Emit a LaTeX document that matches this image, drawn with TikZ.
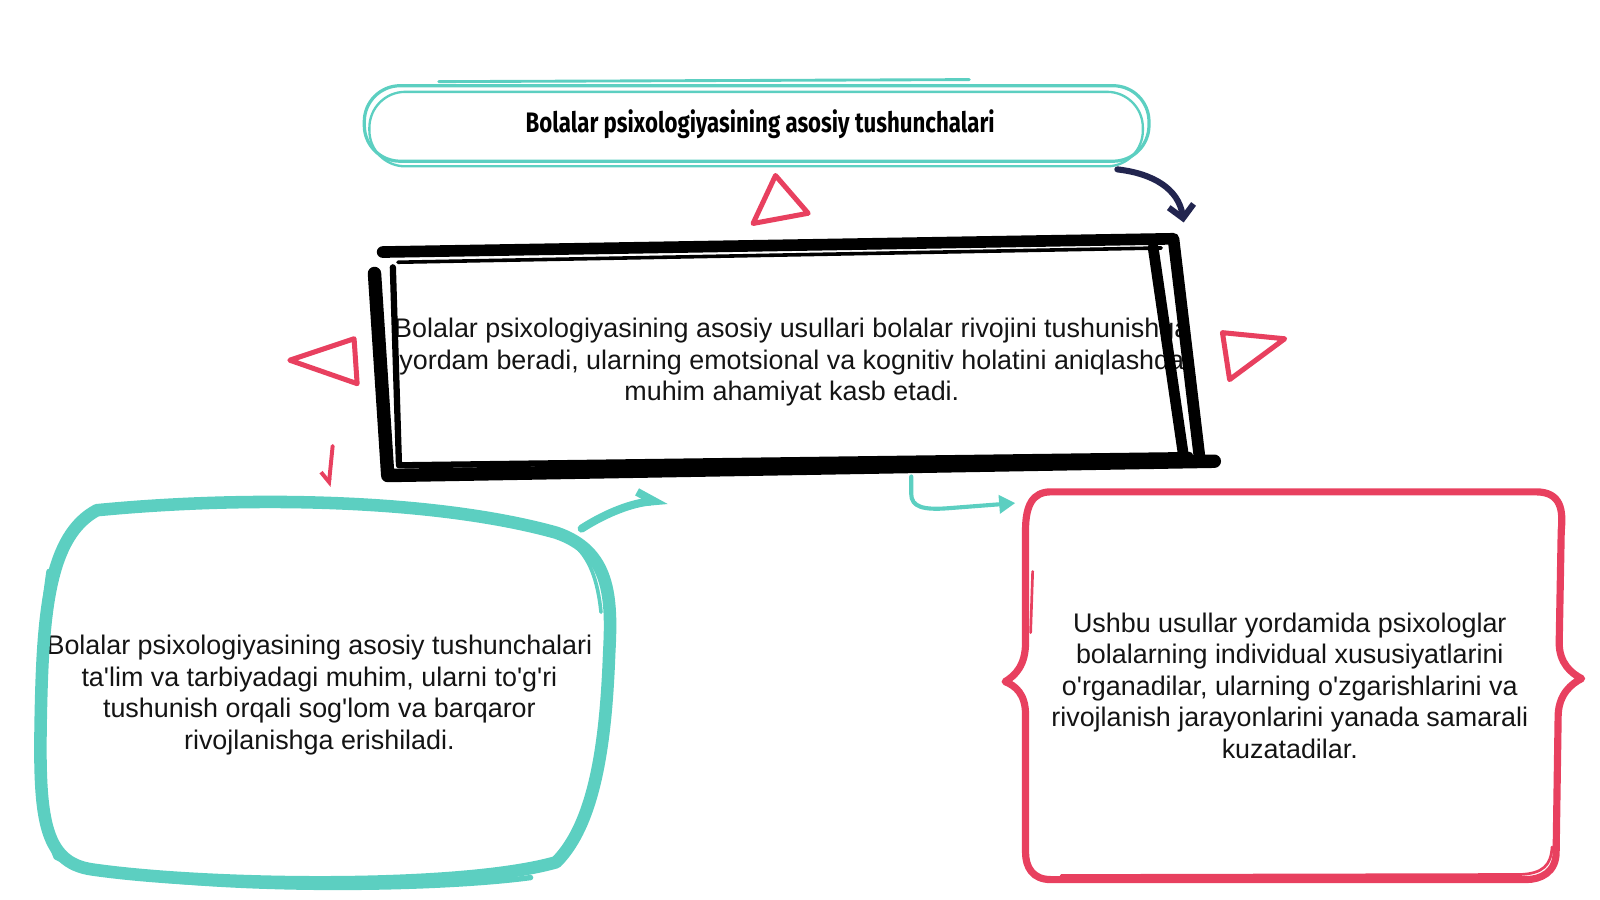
\documentclass[tikz,border=0pt]{standalone}
\usepackage{fontspec}
\usepackage{tikz}
\usetikzlibrary{arrows.meta}
\newfontfamily\bodyfont{Liberation Sans}
\newfontfamily\titlefont{Fira Sans}[FakeStretch=0.79]
\definecolor{tealink}{HTML}{5CCFC1}
\definecolor{redink}{HTML}{E8405F}
\definecolor{navyink}{HTML}{22254F}

\tikzset{
	tealpen/.style={draw=tealink, line cap=round, line join=round},
	redpen/.style={draw=redink, line cap=round, line join=round},
	inkpen/.style={draw=black, line cap=round, line join=round},
	bodytext/.style={align=center, text=black!92, font=\bodyfont\fontsize{15}{17.6}\selectfont},
}

\begin{document}
\begin{tikzpicture}[x=0.02cm, y=-0.02cm]
			\useasboundingbox (0,0) rectangle (1568,882);
			
			% Title pill
			\node (title) at (745,122) {\titlefont\bfseries\fontsize{15.7}{18}\selectfont Bolalar psixologiyasining asosiy tushunchalari};
			\draw[tealpen, line width=1.8pt, rounded corners=20pt] (357,84) rectangle (1126,158);
			\draw[tealpen, line width=1.3pt, rounded corners=20pt] (362,90) rectangle (1120,163);
			\draw[tealpen, line width=1.6pt] (430,80) -- (950,78);
			
			% Middle text, then the ink frame over it
			\node[bodytext] (methods) at (776,355) {Bolalar psixologiyasining asosiy usullari bolalar rivojini tushunishga\\ yordam beradi, ularning emotsional va kognitiv holatini aniqlashda\\ muhim ahamiyat kasb etadi.};
			\draw[inkpen, line width=6.5pt] (375,247) -- (1150,234) -- (1176,452);
			\draw[inkpen, line width=2pt] (390,257) -- (1138,243);
			\draw[inkpen, line width=7.5pt] (367,268) -- (380,466) -- (1190,452);
			\draw[inkpen, line width=3.5pt] (385,262) -- (391,456) -- (1166,446);
			\draw[inkpen, line width=6pt] (1130,242) -- (1160,448);
			
			% Left teal frame
			\node[bodytext] (concepts) at (313,681) {Bolalar psixologiyasining asosiy tushunchalari\\ ta'lim va tarbiyadagi muhim, ularni to'g'ri\\ tushunish orqali sog'lom va barqaror\\ rivojlanishga erishiladi.};
			\draw[tealpen, line width=7pt] (95,500) .. controls (250,485) and (430,490) .. (545,522) .. controls (598,540) and (600,585) .. (597,640) .. controls (594,720) and (585,805) .. (545,845) .. controls (450,872) and (200,868) .. (90,852) .. controls (42,845) and (38,800) .. (40,700) .. controls (42,600) and (48,525) .. (95,500);
			\draw[tealpen, line width=3pt] (48,560) .. controls (35,650) and (30,780) .. (55,840) .. controls (120,874) and (400,876) .. (520,860);
			\draw[tealpen, line width=2pt] (560,532) .. controls (578,545) and (586,570) .. (589,600);
			
			% Right red frame
			\node[bodytext] (results) at (1264,672) {Ushbu usullar yordamida psixologlar\\ bolalarning individual xususiyatlarini\\ o'rganadilar, ularning o'zgarishlarini va\\ rivojlanish jarayonlarini yanada samarali\\ kuzatadilar.};
			\draw[redpen, line width=4pt] (1030,482) -- (1505,482) .. controls (1530,482) and (1532,500) .. (1530,520) -- (1528,630) .. controls (1528,650) and (1540,660) .. (1550,665) .. controls (1540,670) and (1528,680) .. (1527,700) -- (1525,835) .. controls (1525,855) and (1510,862) .. (1495,862) -- (1030,862) .. controls (1012,862) and (1005,850) .. (1005,835) -- (1005,700) .. controls (1005,680) and (995,672) .. (985,668) .. controls (995,662) and (1005,652) .. (1005,630) -- (1005,520) .. controls (1005,495) and (1012,482) .. (1030,482) -- cycle;
			\draw[redpen, line width=1.5pt] (1012,560) -- (1010,620);
			\draw[redpen, line width=1.5pt] (1040,858) -- (1490,857) .. controls (1512,856) and (1520,848) .. (1521,830);
			
			% Red triangles
			\foreach \ax/\ay/\bx/\by/\cx/\cy in {760/172/792/209/738/219, 284/353/347/332/350/376, 1198/326/1259/332/1205/372} {
				\draw[redpen, line width=2.8pt] (\ax,\ay) -- (\bx,\by) -- (\cx,\cy) -- cycle;
			}
			
			% Arrows
			\coordinate (navyS) at (1095,166);
			\coordinate (navyE) at (1160,218);
			\draw[draw=navyink, line width=3.4pt, line cap=round, -{Straight Barb[length=7pt,width=14pt]}] (navyS) .. controls (1130,170) and (1155,185) .. (navyE);
			\coordinate (tickS) at (326,437);
			\coordinate (tickE) at (322,477);
			\draw[redpen, line width=2.2pt, -{Straight Barb[harpoon,swap,length=5pt,width=10pt]}] (tickS) -- (tickE);
			\coordinate (upS) at (570,518);
			\coordinate (upE) at (654,490);
			\draw[tealpen, line width=4.5pt, -{Straight Barb[harpoon,length=9pt,width=12pt]}] (upS) .. controls (595,502) and (620,493) .. (upE);
			\coordinate (hookS) at (893,467);
			\coordinate (hookE) at (995,493);
			\draw[tealpen, line width=2.3pt, -{Triangle[length=9pt,width=10pt]}] (hookS) -- (893,484) .. controls (893,497) and (905,500) .. (930,498) -- (hookE);
			
		\end{tikzpicture}
\end{document}
